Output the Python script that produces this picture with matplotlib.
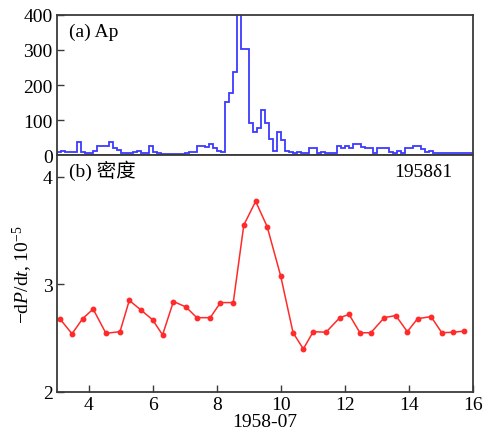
import numpy as np
import matplotlib

matplotlib.use('Agg')
import matplotlib.pyplot as plt

plt.rcParams['font.family'] = ['Liberation Serif', 'Noto Sans CJK SC']
plt.rcParams['mathtext.fontset'] = 'custom'
plt.rcParams['mathtext.rm'] = 'Liberation Serif'
plt.rcParams['mathtext.it'] = 'Liberation Serif:italic'

# Ap index, 3-hourly values starting 1958-07-03 00h
ap_start = 3.0
ap_vals = [8, 12, 10, 10, 8, 36, 10, 5, 5, 12,
           26, 26, 26, 36, 21, 14, 7, 5, 5, 10,
           12, 5, 5, 26, 10, 5, 3, 3, 3, 3,
           3, 3, 5, 8, 8, 26, 26, 22, 31, 19,
           12, 10, 152, 178, 236, 430, 302, 302, 92, 65,
           76, 130, 92, 45, 12, 65, 43, 12, 8, 5,
           10, 5, 5, 19, 19, 5, 10, 6, 6, 6,
           26, 21, 26, 21, 31, 31, 23, 19, 19, 7,
           19, 19, 19, 10, 5, 12, 5, 19, 19, 26,
           26, 16, 10, 12, 5, 5, 5, 5, 5, 5,
           5, 5, 5, 5]

# density from satellite 1958 delta 1 drag
dens_day = [3.09, 3.47, 3.80, 4.13, 4.53, 4.97, 5.26, 5.63, 5.99, 6.30,
            6.64, 7.03, 7.37, 7.79, 8.11, 8.51, 8.84, 9.21, 9.57, 9.99,
            10.38, 10.70, 11.01, 11.41, 11.84, 12.13, 12.47, 12.81, 13.23, 13.59,
            13.95, 14.27, 14.69, 15.03, 15.39, 15.73]
dens_val = [2.68, 2.54, 2.68, 2.77, 2.545, 2.56, 2.85, 2.76, 2.67, 2.53,
            2.84, 2.79, 2.69, 2.69, 2.83, 2.83, 3.55, 3.77, 3.535, 3.08,
            2.55, 2.40, 2.56, 2.555, 2.69, 2.72, 2.55, 2.55, 2.69, 2.71,
            2.56, 2.68, 2.70, 2.55, 2.555, 2.565]

frame = '#3a3a3a'
fig = plt.figure(figsize=(4.87, 4.39), dpi=100)
ax1 = fig.add_axes([0.117, 0.6446, 0.854, 0.319])
ax2 = fig.add_axes([0.117, 0.1048, 0.854, 0.5398])

edges = ap_start + np.arange(len(ap_vals) + 1) / 8.0
ax1.stairs(ap_vals, edges, color='#3b3bff', lw=1.3)
ax1.set_xlim(3, 16)
ax1.set_ylim(0, 400)
ax1.set_yticks([0, 100, 200, 300, 400])
ax1.set_xticks([])
ax1.text(0.03, 0.85, '(a) Ap', transform=ax1.transAxes, fontsize=14)

ax2.plot(dens_day, dens_val, color='#ff2a2a', lw=1.1, marker='o', ms=3.2)
ax2.set_xlim(3, 16)
ax2.set_ylim(2, 4.2)
ax2.set_yticks([2, 3, 4])
ax2.set_xticks([4, 6, 8, 10, 12, 14, 16])
ax2.set_xlabel('1958-07', fontsize=14, labelpad=0)
ax2.set_ylabel(r'$-\mathrm{d}P/\mathrm{d}t$, 10$^{-5}$', fontsize=14, labelpad=6)
ax2.text(0.03, 0.91, '(b) 密度', transform=ax2.transAxes, fontsize=14)
ax2.text(0.95, 0.91, '1958δ1', transform=ax2.transAxes, fontsize=14, ha='right')

for ax in (ax1, ax2):
    ax.tick_params(direction='in', length=5, width=1, labelsize=14, color=frame, pad=3)
    for s in ax.spines.values():
        s.set_color(frame)
        s.set_linewidth(1.3)

fig.savefig('out.png', dpi=100)
